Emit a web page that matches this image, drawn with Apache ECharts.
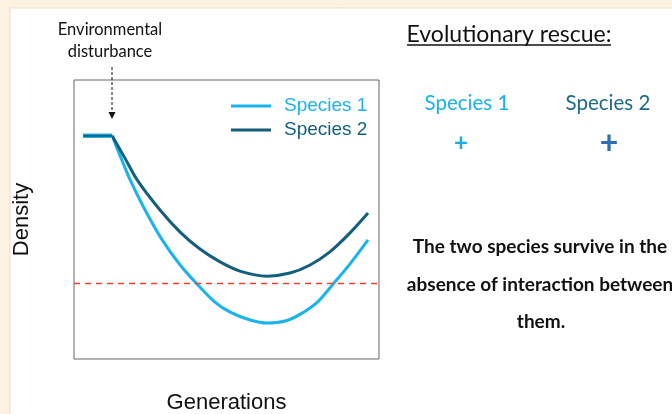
<!DOCTYPE html>
<html>
<head>
<meta charset="utf-8">
<script src="https://cdn.jsdelivr.net/npm/echarts@6/dist/echarts.min.js"></script>
<style>
  html, body { margin: 0; padding: 0; background: #fdf1e3; }
  #chart { width: 672px; height: 414px; }
</style>
</head>
<body>
<div id="chart"></div>
<script>
// before the disturbance both species sit at the same density
const flatGens = [3, 12.5]
const flatDensity = [80, 80]
// decline and recovery after the disturbance
const gens1 = [12.5, 15.7, 18.4, 23.3, 28.9, 34.8, 40.3, 46.2, 51.2, 57.7, 63.3, 69.2, 74.1, 80, 84.9, 90.5, 96.4]
const density1 = [80, 71.3, 64.2, 53.4, 42.7, 33.7, 26.9, 20.4, 16.8, 14.0, 12.9, 13.6, 16.0, 20.6, 26.8, 34.1, 42.7]
const gens2 = [12.5, 16.7, 20.7, 28.2, 34.8, 41.3, 47.9, 54.4, 63.3, 70.8, 77.4, 83.9, 90.5, 96.4]
const density2 = [80, 72.0, 64.2, 53.4, 45.5, 39.4, 34.8, 31.5, 29.7, 30.8, 33.7, 38.4, 45.2, 52.3]
const threshold = 27
const seriesNames = ['Species 1', 'Species 2']

const c1 = '#1ab4ec'
const c2 = '#135f7d'
const zip = (xs, ys) => xs.map((x, i) => [x, ys[i]])

const chart = echarts.init(document.getElementById('chart'))

const option = {
  backgroundColor: '#fdf1e3',
  animation: false,
  grid: {
    left: 74, top: 80, width: 305, height: 279,
    outerBoundsMode: 'none',
    show: true, backgroundColor: '#fff', borderColor: '#666', borderWidth: 1
  },
  legend: {
    orient: 'vertical',
    left: 226, top: 91,
    icon: 'rect',
    itemWidth: 40, itemHeight: 3, itemGap: 4,
    textStyle: { fontFamily: 'Liberation Sans', fontSize: 19, lineHeight: 20, padding: [0, 0, 0, 8] },
    data: [
      { name: seriesNames[0], textStyle: { color: c1 } },
      { name: seriesNames[1], textStyle: { color: c2 } }
    ]
  },
  xAxis: {
    type: 'value', min: 0, max: 100,
    name: 'Generations', nameLocation: 'middle', nameGap: 33,
    nameTextStyle: { fontFamily: 'Liberation Sans', fontSize: 22, color: '#111' },
    axisLine: { show: false }, axisTick: { show: false },
    axisLabel: { show: false }, splitLine: { show: false }
  },
  yAxis: {
    type: 'value', min: 0, max: 100,
    name: 'Density', nameLocation: 'middle', nameGap: 41,
    nameTextStyle: { fontFamily: 'Liberation Sans', fontSize: 22, color: '#111' },
    axisLine: { show: false }, axisTick: { show: false },
    axisLabel: { show: false }, splitLine: { show: false }
  },
  series: [
    {
      name: seriesNames[0], type: 'line', smooth: 0.3, symbol: 'none',
      data: zip(gens1, density1),
      lineStyle: { color: c1, width: 3 }, itemStyle: { color: c1 },
      markLine: {
        silent: true, symbol: 'none', label: { show: false },
        lineStyle: { color: '#f0402c', type: [6, 5], width: 1.4, opacity: 1 },
        emphasis: { disabled: true },
        data: [{ yAxis: threshold }]
      },
      z: 3
    },
    {
      name: seriesNames[1], type: 'line', smooth: 0.3, symbol: 'none',
      data: zip(gens2, density2),
      lineStyle: { color: c2, width: 3 }, itemStyle: { color: c2 },
      z: 3
    },
    {
      type: 'line', symbol: 'none', data: zip(flatGens, flatDensity),
      lineStyle: { color: c1, width: 4.5 }, z: 4
    },
    {
      type: 'line', symbol: 'none', data: zip(flatGens, flatDensity),
      lineStyle: { color: c2, width: 2 }, z: 5
    }
  ],
  graphic: [
    // white panel on the cream page
    {
      type: 'rect', z: -10, silent: true,
      shape: { x: 10, y: 8, width: 680, height: 420 },
      style: { fill: '#fff', stroke: '#e6ddd2', lineWidth: 1 }
    },
    {
      type: 'text', x: 110, y: 30,
      style: { text: 'Environmental', font: '16.5px Lato', fill: '#111', align: 'center', verticalAlign: 'middle' }
    },
    {
      type: 'text', x: 110, y: 52,
      style: { text: 'disturbance', font: '16.5px Lato', fill: '#111', align: 'center', verticalAlign: 'middle' }
    },
    {
      type: 'line', shape: { x1: 112, y1: 67, x2: 112, y2: 113 },
      style: { stroke: '#111', lineWidth: 1, lineDash: [3, 2] }
    },
    {
      type: 'polygon', shape: { points: [[108.5, 112], [115.5, 112], [112, 119]] },
      style: { fill: '#111' }
    },
    {
      type: 'text', x: 509, y: 35,
      style: { text: 'Evolutionary rescue:', font: '23px Lato', fill: '#111', align: 'center', verticalAlign: 'middle' }
    },
    {
      type: 'line', shape: { x1: 407, y1: 45, x2: 611, y2: 45 },
      style: { stroke: '#111', lineWidth: 1.3 }
    },
    {
      type: 'text', x: 467, y: 103,
      style: { text: 'Species 1', font: '20.5px Lato', fill: '#1ab2ec', align: 'center', verticalAlign: 'middle' }
    },
    {
      type: 'text', x: 608, y: 103,
      style: { text: 'Species 2', font: '20.5px Lato', fill: '#1b6a8a', align: 'center', verticalAlign: 'middle' }
    },
    {
      type: 'text', x: 461, y: 143,
      style: { text: '+', font: 'bold 24px Lato', fill: '#1aa8e8', align: 'center', verticalAlign: 'middle' }
    },
    {
      type: 'text', x: 609, y: 144,
      style: { text: '+', font: 'bold 32px Lato', fill: '#2f6db0', align: 'center', verticalAlign: 'middle' }
    },
    {
      type: 'text', x: 540, y: 247,
      style: { text: 'The two species survive in the', font: 'bold 19px Lato', fill: '#111', align: 'center', verticalAlign: 'middle' }
    },
    {
      type: 'text', x: 540, y: 285,
      style: { text: 'absence of interaction between', font: 'bold 19px Lato', fill: '#111', align: 'center', verticalAlign: 'middle' }
    },
    {
      type: 'text', x: 541, y: 322,
      style: { text: 'them.', font: 'bold 19px Lato', fill: '#111', align: 'center', verticalAlign: 'middle' }
    }
  ]
}

chart.setOption(option)
</script>
</body>
</html>
